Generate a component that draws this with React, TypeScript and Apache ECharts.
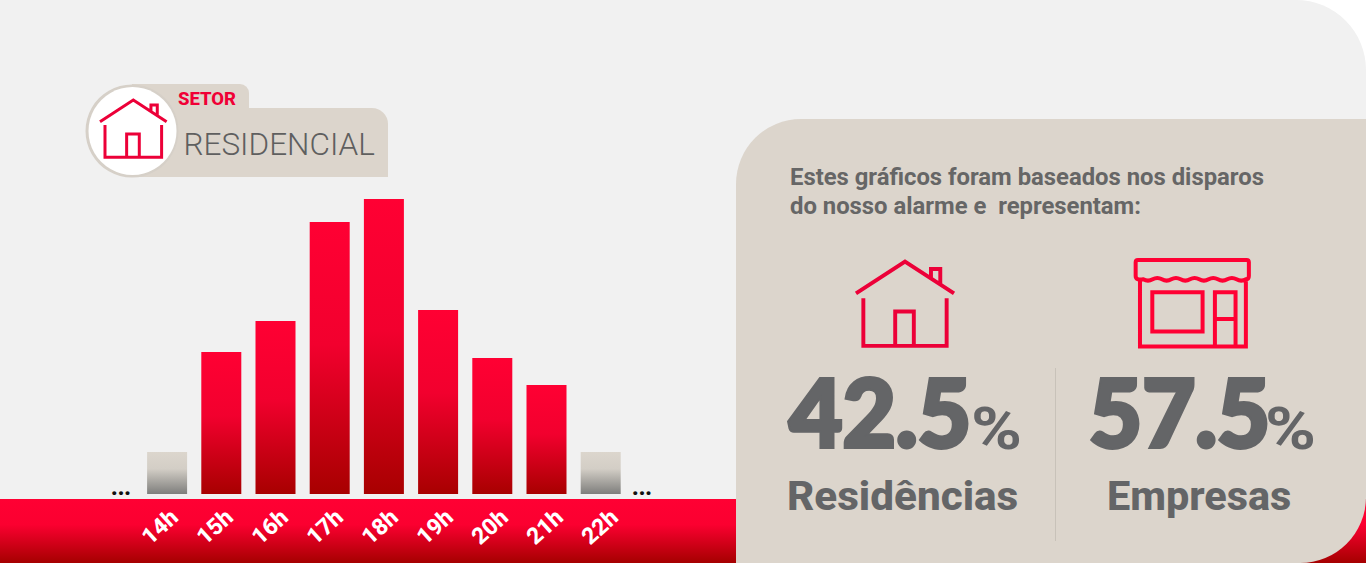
import React, { useEffect, useRef } from "react";
import * as echarts from "echarts";

const hours = ["14h", "15h", "16h", "17h", "18h", "19h", "20h", "21h", "22h"];
const alarmLevels = [42, 142, 173, 272, 295, 184, 136, 109, 42];
const fadedHours = ["14h", "22h"];
const sectorLabel = "SETOR";
const sectorName = "RESIDENCIAL";
const introLines = "Estes gráficos foram baseados nos disparos\ndo nosso alarme e  representam:";
const shares = ["42.5", "57.5"];
const shareNames = ["Residências", "Empresas"];

const RED = "#ff0033";
const ICON = "#ec0038";
const BEIGE = "#dcd5cc";
const GREY = "#646567";

const HOUSE =
  "M0 65 L100 0 L200 65 M153 33 V15 H172 V48 M15 75 V172 H185 V75 M80 172 V102 H118 V172";
const SHOP =
  "M54 30 H380 Q387 30 387 37 V78 Q387 88 378 88 Q364 96 350 88 Q336 80 322 88 Q308 96 294 88 Q280 80 266 88 Q252 96 238 88 " +
  "Q224 80 210 88 Q196 96 182 88 Q168 80 154 88 Q140 96 126 88 Q112 80 98 88 Q84 96 70 88 Q47 92 47 78 V37 Q47 30 54 30 Z " +
  "M60 90 V290 H378 V90 M97 127 H248 V245 H97 Z M285 290 V127 H347 V290 M285 207 H347";

echarts.graphic.registerShape("houseIcon", echarts.graphic.extendPath(HOUSE, {}) as any);
echarts.graphic.registerShape("shopIcon", echarts.graphic.extendPath(SHOP, {}) as any);

function bandGradient() {
  return new echarts.graphic.LinearGradient(0, 0, 0, 1, [
    { offset: 0, color: RED },
    { offset: 0.4, color: "#fb0030" },
    { offset: 1, color: "#a50000" },
  ]);
}

function label(text: string, x: number, y: number, fontSize: number, fontWeight: any, fill: string, scaleX = 1, extra: any = {}) {
  return {
    type: "text",
    x,
    y,
    scaleX,
    z: 5,
    style: { text, x: 0, y: 0, fontSize, fontWeight, fontFamily: "Roboto", fill, verticalAlign: "middle", ...extra },
  };
}

export default function App() {
  const ref = useRef<HTMLDivElement>(null);
  useEffect(() => {
    document.body.style.margin = "0";
    const chart = echarts.init(ref.current!, null, { renderer: "svg" });
    const back = (el: any) => ({ z: -10, ...el });
    const heavy = { fontFamily: "Lato", stroke: GREY, lineWidth: 4 };
    chart.setOption({
      animation: false,
      backgroundColor: "#ffffff",
      grid: [
        { left: 140, top: 199, width: 487.8, height: 295 },
        { left: 132.5, top: 199, width: 495, height: 295 },
      ],
      xAxis: [
        {
          type: "category",
          data: hours,
          gridIndex: 0,
          axisLine: { show: false },
          axisTick: { show: false },
          axisLabel: { show: false },
        },
        {
          type: "category",
          data: hours,
          gridIndex: 1,
          axisLine: { show: false },
          axisTick: { show: false },
          axisLabel: {
            interval: 0,
            rotate: 42,
            align: "center",
            verticalAlign: "middle",
            margin: 33,
            color: "#ffffff",
            fontFamily: "Roboto",
            fontWeight: 800,
            fontSize: 23,
          },
        },
      ],
      yAxis: [
        { type: "value", min: 0, max: 295, show: false, gridIndex: 0 },
        { type: "value", min: 0, max: 295, show: false, gridIndex: 1 },
      ],
      series: [
        {
          type: "bar",
          barWidth: 40,
          xAxisIndex: 0,
          yAxisIndex: 0,
          data: alarmLevels.map((value, i) => ({
            value,
            itemStyle: {
              color: new echarts.graphic.LinearGradient(
                0, 0, 0, 1,
                fadedHours.includes(hours[i])
                  ? [
                      { offset: 0, color: "#dcd6cd" },
                      { offset: 0.4, color: "#d3cec6" },
                      { offset: 1, color: "#7e7e7c" },
                    ]
                  : [
                      { offset: 0, color: RED },
                      { offset: 0.45, color: "#f2002e" },
                      { offset: 1, color: "#a80000" },
                    ]
              ),
            },
          })),
        },
      ],
      graphic: [
        back({ type: "rect", shape: { x: 0, y: 0, width: 1366, height: 563, r: [0, 70, 0, 0] }, style: { fill: "#f1f1f1" } }),
        back({ type: "rect", z: -9, shape: { x: 0, y: 499, width: 736, height: 64 }, style: { fill: bandGradient() } }),
        back({ type: "rect", z: -9, shape: { x: 1280, y: 499, width: 86, height: 64 }, style: { fill: bandGradient() } }),
        back({ type: "rect", z: -8, shape: { x: 736, y: 119, width: 630, height: 444, r: [65, 0, 66, 0] }, style: { fill: BEIGE } }),
        back({ type: "rect", z: -7, shape: { x: 132, y: 84, width: 117, height: 40, r: [0, 9, 0, 0] }, style: { fill: BEIGE } }),
        back({ type: "rect", z: -7, shape: { x: 132, y: 108, width: 256, height: 69, r: [0, 16, 0, 0] }, style: { fill: BEIGE } }),
        back({ type: "circle", z: -6, shape: { cx: 132, cy: 131, r: 46.5 }, style: { fill: "#d6d0c8" } }),
        back({ type: "circle", z: -5, shape: { cx: 132.5, cy: 131, r: 44 }, style: { fill: "#ffffff" } }),
        { type: "houseIcon", z: 5, x: 100, y: 100, scaleX: 1 / 3, scaleY: 1 / 3, style: { fill: "none", stroke: ICON, lineWidth: 9 } },
        { type: "houseIcon", z: 5, x: 856, y: 261.6, scaleX: 0.49, scaleY: 0.49, style: { fill: "none", stroke: ICON, lineWidth: 8 } },
        { type: "shopIcon", z: 5, x: 1120, y: 250, scaleX: 1 / 3, scaleY: 1 / 3, style: { fill: "none", stroke: RED, lineWidth: 12 } },
        { type: "line", z: 4, shape: { x1: 1055.5, y1: 368, x2: 1055.5, y2: 541 }, style: { stroke: "#c8c2b9", lineWidth: 1 } },
        label(sectorLabel, 178, 98.5, 18.5, 800, "#f00035"),
        label(sectorName, 183.5, 144, 32, 300, "#5f5f5f", 0.985),
        label(introLines, 790, 191.5, 23.5, 700, "#666666", 1.015, { lineHeight: 29 }),
        label(shares[0], 789, 411, 94, 900, GREY, 0.98, heavy),
        label("%", 971, 429, 60, 700, GREY, 1.15),
        label(shares[1], 1089, 411, 94, 900, GREY, 0.975, heavy),
        label("%", 1265, 429, 60, 700, GREY, 1.15),
        label(shareNames[0], 787, 496, 41, 800, GREY, 1.03),
        label(shareNames[1], 1107, 496, 41, 800, GREY, 1.01),
        label("...", 111, 487, 22, 900, "#111111"),
        label("...", 632, 487, 22, 900, "#111111"),
      ],
    });
    return () => chart.dispose();
  }, []);
  return <div ref={ref} style={{ width: 1366, height: 563 }} />;
}
